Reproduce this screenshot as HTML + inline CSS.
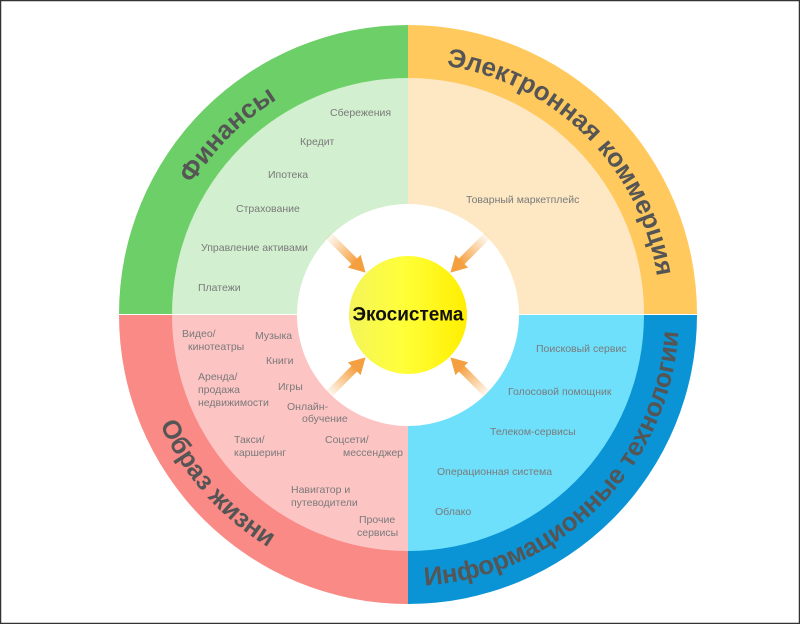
<!DOCTYPE html>
<html><head><meta charset="utf-8"><style>
html,body{margin:0;padding:0;background:#fff;}
svg{display:block;}
</style></head><body>
<svg width="800" height="624" viewBox="0 0 800 624" xmlns="http://www.w3.org/2000/svg" font-family="'Liberation Sans', 'Noto Sans CJK SC', sans-serif">
<defs>
<linearGradient id="sun" x1="0" y1="0" x2="1" y2="0">
<stop offset="0" stop-color="#f4f45a"/><stop offset="0.45" stop-color="#ffff3a"/><stop offset="1" stop-color="#ffee00"/></linearGradient>
<linearGradient id="ar" x1="0" y1="0" x2="1" y2="0">
<stop offset="0" stop-color="#f5a040" stop-opacity="0"/><stop offset="1" stop-color="#f5a040"/></linearGradient>
<path id="pTL" d="M156,315 A252,252 0 0 1 408,63"/>
<path id="pTR" d="M408,63 A252,252 0 0 1 660,315"/>
<path id="pBL" d="M137,315 A271,271 0 0 0 408,586"/>
<path id="pBR" d="M408,586 A271,271 0 0 0 679,315"/>
</defs>
<rect x="0.5" y="0.5" width="799" height="623" fill="#fff" stroke="#333" stroke-width="1.5"/>
<path d="M408,314 L119,314 A289,289 0 0 1 408,25 Z" fill="#6dcf68"/>
<path d="M408,314 L408,25 A289,289 0 0 1 697,314 Z" fill="#ffc95d"/>
<path d="M408,315 L697,315 A289,289 0 0 1 408,604 Z" fill="#0a94d6"/>
<path d="M408,315 L408,604 A289,289 0 0 1 119,315 Z" fill="#f98a86"/>
<path d="M408,314 L172,314 A236,236 0 0 1 408,78 Z" fill="#d2efcf"/>
<path d="M408,314 L408,78 A236,236 0 0 1 644,314 Z" fill="#fde8c3"/>
<path d="M408,315 L644,315 A236,236 0 0 1 408,551 Z" fill="#6ee0fb"/>
<path d="M408,315 L408,551 A236,236 0 0 1 172,315 Z" fill="#fdc4c4"/>
<circle cx="408" cy="315" r="111" fill="#fff"/>
<g fill="#f5a040">
<g transform="translate(408,315) rotate(225)"><rect x="74" y="-4" width="40" height="8" fill="url(#ar)" transform="rotate(180 94 0)"/><polygon points="60,0 76,-9 76,9"/></g>
<g transform="translate(408,315) rotate(315)"><rect x="74" y="-4" width="40" height="8" fill="url(#ar)" transform="rotate(180 94 0)"/><polygon points="60,0 76,-9 76,9"/></g>
<g transform="translate(408,315) rotate(45)"><rect x="74" y="-4" width="40" height="8" fill="url(#ar)" transform="rotate(180 94 0)"/><polygon points="60,0 76,-9 76,9"/></g>
<g transform="translate(408,315) rotate(135)"><rect x="74" y="-4" width="40" height="8" fill="url(#ar)" transform="rotate(180 94 0)"/><polygon points="60,0 76,-9 76,9"/></g>
</g>
<circle cx="408" cy="315" r="59" fill="url(#sun)"/>
<text x="408" y="315" text-anchor="middle" dominant-baseline="central" font-size="19" font-weight="bold" fill="#111">Экосистема</text>
<g font-size="26" font-weight="bold" fill="#555">
<text><textPath href="#pTL" startOffset="50%" text-anchor="middle">Финансы</textPath></text>
<text><textPath href="#pTR" startOffset="50%" text-anchor="middle">Электронная коммерция</textPath></text>
<text><textPath href="#pBL" startOffset="46%" text-anchor="middle">Образ жизни</textPath></text>
<text><textPath href="#pBR" startOffset="50%" text-anchor="middle">Информационные технологии</textPath></text>
</g>
<g font-size="10.5" fill="#7a7a7a" dominant-baseline="central">
<text x="330" y="113">Сбережения</text>
<text x="300" y="142">Кредит</text>
<text x="268" y="175">Ипотека</text>
<text x="236" y="209">Страхование</text>
<text x="201" y="248">Управление активами</text>
<text x="198" y="288">Платежи</text>
<text x="466" y="200">Товарный маркетплейс</text>
<text x="536" y="349">Поисковый сервис</text>
<text x="508" y="392">Голосовой помощник</text>
<text x="490" y="432">Телеком-сервисы</text>
<text x="437" y="472">Операционная система</text>
<text x="435" y="512">Облако</text>
<text x="182" y="334">Видео/</text>
<text x="188" y="347">кинотеатры</text>
<text x="255" y="336">Музыка</text>
<text x="266" y="361">Книги</text>
<text x="198" y="377">Аренда/</text>
<text x="198" y="390">продажа</text>
<text x="198" y="403">недвижимости</text>
<text x="278" y="387">Игры</text>
<text x="287" y="407">Онлайн-</text>
<text x="302" y="419">обучение</text>
<text x="234" y="440">Такси/</text>
<text x="234" y="453">каршеринг</text>
<text x="325" y="440">Соцсети/</text>
<text x="343" y="453">мессенджер</text>
<text x="291" y="490">Навигатор и</text>
<text x="291" y="503">путеводители</text>
<text x="359" y="520">Прочие</text>
<text x="357" y="533">сервисы</text>
</g>
</svg>
</body></html>
